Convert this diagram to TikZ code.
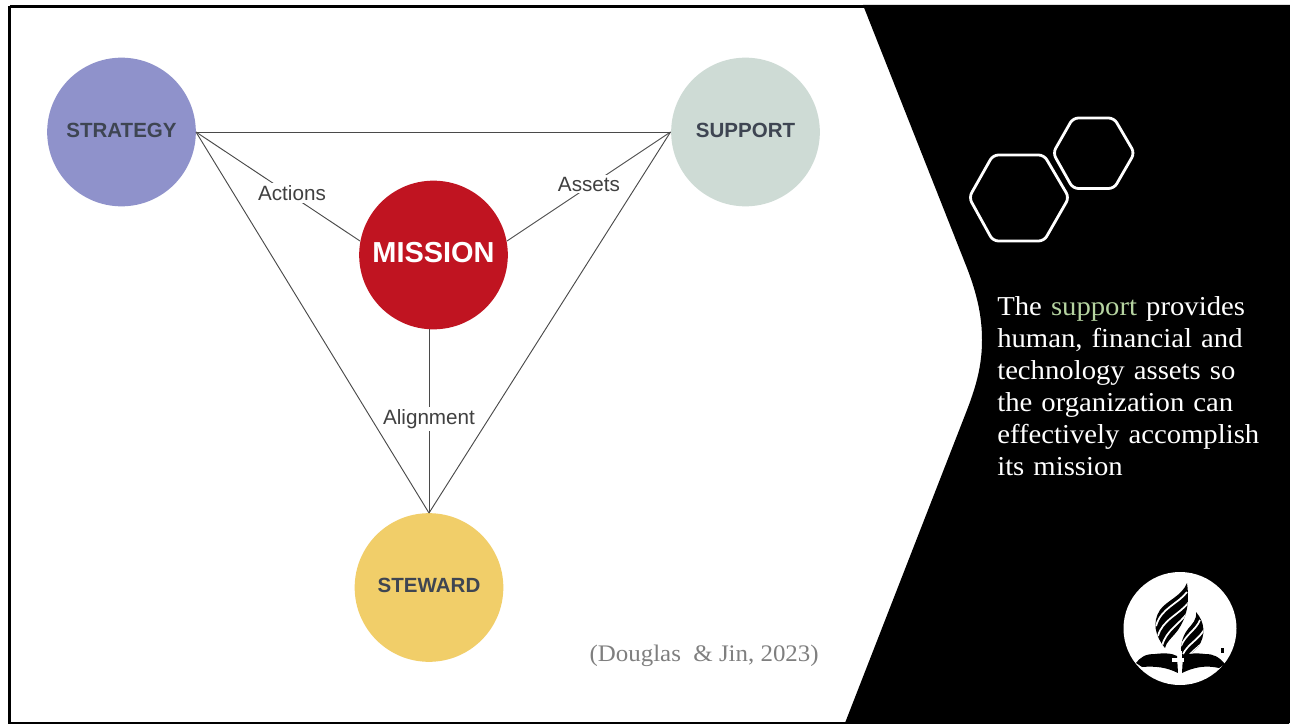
\documentclass[tikz,border=0pt]{standalone}
\usepackage{fontspec}
\setmainfont{Liberation Serif}
\newfontfamily\bodyserif[FakeStretch=1.05]{Liberation Serif}
\setsansfont{Liberation Sans}
\definecolor{stratc}{HTML}{8F92CB}
\definecolor{suppc}{HTML}{CEDBD5}
\definecolor{missc}{HTML}{C01421}
\definecolor{stewc}{HTML}{F1CE69}
\definecolor{lblc}{HTML}{3E4552}
\definecolor{linkc}{HTML}{4A4A4A}
\definecolor{greenc}{HTML}{B5D3A0}
\definecolor{citec}{HTML}{7F7F7F}
\newcommand{\up}[2]{\raisebox{#1}{#2}}
\tikzset{
 hub/.style={circle,minimum size=111.5pt,inner sep=0pt,font=\sffamily\bfseries\fontsize{15.4}{18}\selectfont,text=lblc},
 link/.style={draw=linkc,line width=0.7pt},
 edgelabel/.style={fill=white,inner sep=1.5pt,font=\sffamily\fontsize{15.5}{18}\selectfont,text=black!75},
 hexa/.style={draw=white,line width=2.1pt,line join=round,rounded corners=4pt},
 stripe/.style={draw=white,line width=1.3pt},
}
\begin{document}
\begin{tikzpicture}[x=0.75pt,y=-0.75pt]
\useasboundingbox (0,0) rectangle (1290,724);
\fill[white] (0,0) rectangle (1290,724);
% black panel
\fill[black] (863,5) -- (967,268) .. controls (977,294) and (982,316) .. (982,340) .. controls (982,364) and (977,384) .. (967,410) -- (845,723) -- (1290,723) -- (1290,5) -- cycle;
% frame
\draw[black,line width=2.2pt] (9.5,6.5) -- (1289,6.5);
\draw[black,line width=2.2pt] (9.5,6.5) -- (9.5,723) -- (1289,723);
% hubs
\node[hub,fill=stratc] (strategy) at (121.5,132) {\up{2pt}{STRATEGY}};
\node[hub,fill=suppc] (support) at (745.5,132) {\up{2pt}{SUPPORT}};
\node[hub,fill=missc,text=white,font=\sffamily\bfseries\fontsize{21.7}{24}\selectfont] (mission) at (433.5,255) {\up{4.5pt}{MISSION}};
\node[hub,fill=stewc] (steward) at (429,587.5) {\up{4pt}{STEWARD}};
\coordinate (sa) at (196,132);
\coordinate (sb) at (670.5,132);
\coordinate (st) at (429,513);
\coordinate (ma) at (360,241);
\coordinate (mb) at (507,241);
\coordinate (mc) at (429,329);
\coordinate (la) at (292,193);
\coordinate (lb) at (589,184);
\coordinate (lc) at (429,419);
% connectors
\draw[link] (sa) -- (sb);
\draw[link] (sa) -- (st);
\draw[link] (sb) -- (st);
\draw[link] (sa) -- (ma);
\draw[link] (sb) -- (mb);
\draw[link] (mc) -- (st);
\node[edgelabel] (actions) at (la) {Actions};
\node[edgelabel] (assets) at (lb) {Assets};
\node[edgelabel] (alignment) at (lc) {Alignment};
% hexagons
\draw[hexa] (969,197.5) -- (993,155) -- (1044,155) -- (1069,197.5) -- (1044,241) -- (993,241) -- cycle;
\draw[hexa] (1053,153) -- (1073,118) -- (1114,118) -- (1134.5,153) -- (1114,188.5) -- (1073,188.5) -- cycle;
% text
\node[anchor=north west,inner sep=0pt,align=left,text=white,text width=300pt,font=\bodyserif\fontsize{20.5}{24}\selectfont] (body) at (997,296) {The \textcolor{greenc}{support} provides\\human, financial and\\technology assets so\\the organization can\\effectively accomplish\\its mission};
\node[anchor=east,inner sep=0pt,text=citec,font=\bodyserif\fontsize{17.8}{22}\selectfont] (cite) at (819,656) {(Douglas\ \ \& Jin, 2023)};
% logo
\fill[white] (1180,628.5) circle (56.5);
\begin{scope}
\clip (1187,583) .. controls (1190,605) and (1186,618) .. (1178,630) .. controls (1172,638) and (1166,642) .. (1165,648) .. controls (1155,636) and (1152,622) .. (1160,610) .. controls (1166,601) and (1182,596) .. (1187,583) -- cycle;
\fill[black] (1150,580) rectangle (1195,650);
\draw[stripe] (1187,592) .. controls (1178,604) and (1161,608) .. (1156,626);
\draw[stripe] (1189,602) .. controls (1180,614) and (1162,620) .. (1158,636);
\draw[stripe] (1188,612) .. controls (1180,624) and (1166,630) .. (1162,646);
\end{scope}
\begin{scope}
\clip (1196,612) .. controls (1205,622) and (1206,636) .. (1198,647) .. controls (1193,653) and (1186,656) .. (1183,661) .. controls (1179,650) and (1181,638) .. (1188,629) .. controls (1192,624) and (1197,620) .. (1196,612) -- cycle;
\fill[black] (1175,610) rectangle (1208,665);
\draw[stripe] (1200,620) .. controls (1196,630) and (1186,634) .. (1181,646);
\draw[stripe] (1204,630) .. controls (1198,640) and (1188,644) .. (1183,654);
\draw[stripe] (1205,640) .. controls (1198,648) and (1190,652) .. (1184,662);
\end{scope}
\fill[black] (1136,663) .. controls (1141,657) and (1145,654) .. (1155,654) .. controls (1163,653) and (1172,653) .. (1177,656) -- (1178,673) .. controls (1166,667) and (1155,666) .. (1142,667) -- cycle;
\fill[black] (1225,664) .. controls (1219,657) and (1214,654) .. (1205,654) .. controls (1197,653) and (1189,653) .. (1183,656) -- (1182,673) .. controls (1194,667) and (1206,665) .. (1219,668) -- cycle;
\fill[white] (1172,658) rectangle (1184,662);
\fill[white] (1177.5,651) rectangle (1182,673);
\fill[black] (1221,648) rectangle (1224,653);
\end{tikzpicture}
\end{document}
